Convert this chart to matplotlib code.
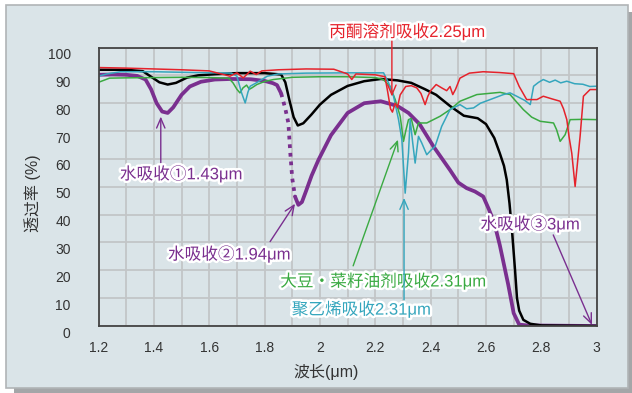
import numpy as np
import matplotlib
matplotlib.use("Agg")
import matplotlib.pyplot as plt
import matplotlib.patheffects as pe
import matplotlib.transforms as mtransforms
from matplotlib.patches import Rectangle

plt.rcParams['font.family'] = ['Liberation Sans', 'Noto Sans CJK SC', 'DejaVu Sans']

# 波長(μm) と 透過率(%) — 図から読み取った値
black_wl = [1.20, 1.30, 1.36, 1.39, 1.42, 1.45, 1.48, 1.52, 1.56, 1.62, 1.70, 1.80, 1.86, 1.875,
            1.89, 1.905, 1.92, 1.94, 1.97, 2.00, 2.04, 2.10, 2.16, 2.22, 2.28, 2.33, 2.38, 2.42,
            2.47, 2.52, 2.57, 2.60, 2.63, 2.65, 2.665, 2.675, 2.685, 2.695, 2.705, 2.712, 2.72,
            2.735, 2.76, 2.80, 3.00]
black_t = [92.0, 92.0, 91.5, 89.5, 87.5, 86.7, 87.3, 89.2, 90.0, 90.4, 90.8, 90.8, 90.3, 87.5,
           81.0, 75.0, 72.0, 72.8, 76.0, 79.5, 83.0, 86.2, 87.9, 88.7, 88.2, 87.3, 85.0, 83.0,
           79.0, 75.5, 74.6, 72.5, 67.5, 62.0, 57.5, 52.5, 44.0, 33.0, 20.0, 10.0, 5.5,
           2.2, 0.8, 0.2, 0.0]

purple_wl = [1.20, 1.25, 1.30, 1.34, 1.37, 1.39, 1.41, 1.43, 1.45, 1.47, 1.50, 1.53, 1.57, 1.62,
             1.68, 1.75, 1.80, 1.83, 1.845, 1.86, 1.875, 1.886, 1.893, 1.90, 1.91, 1.922, 1.935,
             1.95, 1.97, 1.995, 2.04, 2.10, 2.16, 2.22, 2.28, 2.32, 2.36, 2.41, 2.47, 2.50, 2.53,
             2.56, 2.59, 2.61, 2.63, 2.65, 2.665, 2.68, 2.70, 2.72, 2.75, 3.00]
purple_t = [90.2, 90.3, 90.2, 89.8, 88.5, 85.0, 80.0, 77.0, 76.5, 78.5, 83.0, 86.0, 87.7, 88.5,
            88.7, 88.6, 88.0, 87.2, 86.5, 83.5, 78.0, 72.9, 62.0, 53.0, 46.5, 43.5, 44.5,
            48.5, 54.0, 59.7, 68.5, 76.5, 80.0, 80.7, 79.0, 76.5, 72.5, 64.5, 56.0, 51.5, 49.5,
            48.3, 46.5, 42.0, 37.0, 29.0, 22.0, 15.0, 4.6, 0.5, 0.2, 0.0]

red_wl = [1.20, 1.30, 1.40, 1.50, 1.60, 1.675, 1.70, 1.723, 1.748, 1.77, 1.79, 1.85, 1.95, 2.05,
          2.10, 2.115, 2.13, 2.20, 2.235, 2.245, 2.255, 2.262, 2.272, 2.28, 2.29, 2.31, 2.33,
          2.35, 2.365, 2.38, 2.39, 2.40, 2.42, 2.44, 2.458, 2.47, 2.48, 2.49, 2.506, 2.54, 2.59,
          2.65, 2.70, 2.72, 2.747, 2.784, 2.807, 2.84, 2.868, 2.88, 2.892, 2.90, 2.91, 2.922,
          2.93, 2.94, 2.952, 2.976, 3.00]
red_t = [92.8, 92.6, 92.3, 92.0, 91.6, 89.7, 90.9, 89.1, 91.5, 90.3, 91.6, 92.0, 92.3, 92.2,
         90.5, 88.5, 90.5, 90.2, 89.5, 84.0, 78.0, 76.8, 80.0, 78.5, 83.0, 86.0, 86.3,
         85.5, 83.5, 79.5, 82.5, 84.5, 86.7, 85.5, 84.5, 86.0, 83.1, 85.0, 89.0, 90.8, 91.3,
         91.0, 90.6, 86.0, 81.3, 81.3, 82.5, 81.5, 80.7, 78.0, 74.1, 68.0, 62.0, 50.1,
         58.0, 68.1, 82.5, 84.9, 84.9]

cyan_wl = [1.20, 1.23, 1.28, 1.40, 1.55, 1.68, 1.70, 1.717, 1.73, 1.74, 1.748, 1.77, 1.79, 1.81,
           1.85, 1.95, 2.10, 2.23, 2.248, 2.266, 2.284, 2.296, 2.308, 2.32, 2.326, 2.335, 2.344,
           2.356, 2.368, 2.386, 2.40, 2.416, 2.44, 2.47, 2.506, 2.53, 2.555, 2.58, 2.615, 2.663,
           2.687, 2.711, 2.74, 2.76, 2.772, 2.79, 2.807, 2.83, 2.85, 2.87, 2.892, 2.92, 2.95,
           2.975, 3.00]
cyan_t = [89.7, 90.5, 91.3, 91.3, 91.0, 90.8, 89.7, 83.7, 80.1, 84.0, 86.1, 87.3, 88.5, 89.7,
          90.5, 90.8, 90.9, 90.9, 87.3, 82.5, 74.1, 66.9, 47.7, 62.1, 74.1, 66.0, 58.5,
          68.1, 65.7, 61.5, 63.0, 64.5, 71.7, 77.7, 79.5, 78.0, 78.3, 80.0, 81.3, 83.1,
          83.7, 82.5, 81.0, 79.5, 86.1, 87.5, 88.5, 87.5, 88.3, 87.3, 87.9, 87.0, 86.8,
          86.0, 86.1]

green_wl = [1.20, 1.24, 1.30, 1.40, 1.50, 1.60, 1.67, 1.686, 1.70, 1.711, 1.722, 1.735, 1.745,
            1.754, 1.772, 1.80, 1.832, 1.90, 2.00, 2.10, 2.20, 2.229, 2.253, 2.272, 2.29, 2.302,
            2.31, 2.32, 2.33, 2.344, 2.356, 2.386, 2.434, 2.47, 2.506, 2.567, 2.651, 2.687, 2.71,
            2.735, 2.765, 2.796, 2.844, 2.855, 2.868, 2.886, 2.904, 2.95, 3.00]
green_t = [87.5, 89.0, 89.1, 89.2, 89.3, 89.2, 89.0, 87.3, 85.0, 83.7, 85.5, 86.5, 85.0,
           85.5, 86.7, 87.8, 88.5, 89.3, 89.5, 89.5, 89.2, 88.5, 86.1, 81.3, 75.3, 66.3,
           70.0, 74.1, 74.5, 68.7, 72.9, 72.9, 75.3, 77.7, 80.7, 83.1, 83.9, 83.1, 80.5,
           77.7, 75.0, 73.5, 72.9, 70.5, 66.3, 68.7, 74.1, 74.2, 74.1]

xticks = [1.2, 1.4, 1.6, 1.8, 2.0, 2.2, 2.4, 2.6, 2.8, 3.0]
xtick_labels = ['1.2', '1.4', '1.6', '1.8', '2', '2.2', '2.4', '2.6', '2.8', '3']
yticks = [0, 10, 20, 30, 40, 50, 60, 70, 80, 90, 100]

c_purple = '#7a2f8f'
c_red = '#e5222b'
c_cyan = '#35a6bd'
c_green = '#3aaa42'
bg = '#dae4e8'

fig = plt.figure(figsize=(6.32, 3.93), dpi=100)
fig.patch.set_facecolor('white')
# パネルの影と背景
fig.patches.append(Rectangle((14 / 632, 0), 618 / 632, 381 / 393, transform=fig.transFigure,
                             facecolor='#a4a6a8', edgecolor='none', zorder=-2))
fig.patches.append(Rectangle((6 / 632, 5 / 393), 622 / 632, 383 / 393, transform=fig.transFigure,
                             facecolor=bg, edgecolor='#b0b4b6', linewidth=1.2, zorder=-1))

ax = fig.add_axes([98.5 / 632, 67 / 393, 498.2 / 632, 278.5 / 393])
ax.set_facecolor(bg)
ax.set_xlim(1.2, 3.0)
ax.set_ylim(0, 100)
ax.set_xticks(xticks)
ax.set_xticklabels(xtick_labels)
ax.set_xticks(np.arange(1.3, 3.0, 0.2), minor=True)
ax.set_yticks(yticks)
ax.grid(True, which='both', color='#c2c5c7', linewidth=1.3)
ax.set_axisbelow(True)
ax.tick_params(which='both', length=0)
ax.tick_params(axis='x', pad=11, labelsize=10, labelcolor='#333333')
ax.tick_params(axis='y', pad=20, labelsize=10, labelcolor='#333333')
for lab in ax.get_yticklabels():
    lab.set_transform(lab.get_transform() +
                      mtransforms.ScaledTranslation(0, -6 / 100, fig.dpi_scale_trans))
for s in ax.spines.values():
    s.set_color('#444444')
    s.set_linewidth(1.3)

# 水 (紫): 急降下部分は破線
pw = np.array(purple_wl)
pt = np.array(purple_t)
m1 = pw <= 1.86
m2 = (pw >= 1.86) & (pw <= 1.91)
m3 = pw >= 1.91
ax.plot(pw[m1], pt[m1], color=c_purple, lw=2.7, solid_capstyle='round')
ax.plot(pw[m2], pt[m2], color=c_purple, lw=2.7, ls=(0, (1.0, 1.3)))
ax.plot(pw[m3], pt[m3], color=c_purple, lw=2.7, solid_capstyle='round')
ax.plot(black_wl, black_t, color='black', lw=1.8)
ax.plot(green_wl, green_t, color=c_green, lw=1.1)
ax.plot(cyan_wl, cyan_t, color=c_cyan, lw=1.1)
ax.plot(red_wl, red_t, color=c_red, lw=1.1)

stroke = [pe.withStroke(linewidth=3.5, foreground='white')]


def note(text, xy_text, xy_tip, xy_tail, color):
    ax.annotate('', xy=xy_tip, xytext=xy_tail,
                arrowprops=dict(arrowstyle='->,head_length=0.7,head_width=0.3',
                                color=color, lw=1.0, shrinkA=0, shrinkB=0),
                annotation_clip=False)
    ax.text(xy_text[0], xy_text[1], text, color=color, fontsize=12, ha='center',
            va='center', path_effects=stroke, clip_on=False)


note('丙酮溶剂吸收2.25μm', (2.315, 105.8), (2.26, 82.4), (2.26, 103.0), c_red)
note('水吸收①1.43μm', (1.498, 54.7), (1.425, 75.2), (1.425, 58.6), c_purple)
note('水吸收②1.94μm', (1.672, 25.9), (1.910, 43.9), (1.820, 30.3), c_purple)
note('大豆・菜籽油剂吸收2.31μm', (2.228, 16.2), (2.282, 66.9), (2.120, 21.6), c_green)
note('聚乙烯吸收2.31μm', (2.149, 6.1), (2.304, 46.0), (2.304, 9.4), c_cyan)
note('水吸收③3μm', (2.759, 36.7), (2.983, 0.4), (2.843, 32.7), c_purple)

fig.text(33 / 632, 1 - 193 / 393, '透过率 (%)', rotation=90, ha='center', va='center',
         fontsize=11.5, color='#333333')
fig.text(326 / 632, 1 - 372 / 393, '波长(μm)', ha='center', va='center',
         fontsize=11.5, color='#333333')

fig.savefig('out.png', dpi=100, facecolor=fig.get_facecolor())
